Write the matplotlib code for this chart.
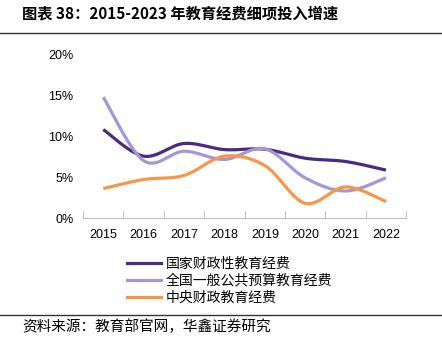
import numpy as np
import matplotlib.pyplot as plt
from matplotlib.lines import Line2D

plt.rcParams['font.family'] = ['Noto Sans CJK SC', 'DejaVu Sans']

years = ['2015', '2016', '2017', '2018', '2019', '2020', '2021', '2022']
national = [10.8, 7.55, 9.1, 8.35, 8.4, 7.3, 6.9, 5.85]
general_budget = [14.75, 7.0, 8.15, 7.15, 8.45, 4.9, 3.3, 4.9]
central = [3.6, 4.7, 5.2, 7.55, 6.4, 1.8, 3.8, 2.0]

names = ['国家财政性教育经费', '全国一般公共预算教育经费', '中央财政教育经费']
colors = ['#4b2a84', '#a596d6', '#f7964a']


def smooth(xs, ys, n=40):
    # cubic bezier through the points, tangents from neighbours (like office charts)
    p = np.column_stack([xs, ys]).astype(float)
    pad = np.vstack([p[0], p, p[-1]])
    out = []
    t = np.linspace(0, 1, n)[:, None]
    for i in range(len(p) - 1):
        p0, p3 = pad[i + 1], pad[i + 2]
        c1 = p0 + (pad[i + 2] - pad[i]) / 6
        c2 = p3 - (pad[i + 3] - pad[i + 1]) / 6
        seg = ((1 - t) ** 3) * p0 + 3 * ((1 - t) ** 2) * t * c1 + 3 * (1 - t) * t ** 2 * c2 + t ** 3 * p3
        out.append(seg if i == 0 else seg[1:])
    s = np.vstack(out)
    return s[:, 0], s[:, 1]


fig = plt.figure(figsize=(4.42, 3.45), dpi=100)
ax = fig.add_axes([0.188, 0.368, 0.731, 0.475])

x = np.arange(len(years))
for vals, c in zip([national, general_budget, central], colors):
    sx, sy = smooth(x, vals)
    ax.plot(sx, sy, color=c, lw=2.3, solid_capstyle='butt')

ax.set_xlim(-0.5, len(years) - 0.5)
ax.set_ylim(0, 20)
ax.set_yticks([0, 5, 10, 15, 20])
ax.set_yticklabels(['0%', '5%', '10%', '15%', '20%'], family='Liberation Sans', fontsize=9)
ax.set_xticks(x)
ax.set_xticklabels(years, family='Liberation Sans', fontsize=9)
ax.set_xticks(np.arange(-0.5, len(years)), minor=True)
ax.tick_params(axis='x', which='major', length=0, pad=8)
ax.tick_params(axis='x', which='minor', direction='in', length=5, color='#bfbfbf', width=0.8)
ax.tick_params(axis='y', length=0, pad=7)
for s in ['top', 'right', 'left']:
    ax.spines[s].set_visible(False)
ax.spines['bottom'].set_color('#bfbfbf')
ax.spines['bottom'].set_linewidth(0.8)

handles = [Line2D([], [], color=c, lw=2.3) for c in colors]
fig.legend(handles, names, loc='upper left', bbox_to_anchor=(0.272, 0.276),
           frameon=False, fontsize=10, handlelength=2.4, handletextpad=0.35,
           labelspacing=0.22, borderpad=0)

fig.text(0.05, 0.962, '图表 38：2015-2023 年教育经费细项投入增速', fontsize=11,
         fontweight='bold', va='center', ha='left')
fig.add_artist(Line2D([0, 1], [0.904, 0.904], color='#333333', lw=1.0))
fig.add_artist(Line2D([0, 1], [0.087, 0.087], color='#333333', lw=1.0))
fig.text(0.05, 0.052, '资料来源：教育部官网，华鑫证券研究', fontsize=10.5,
         va='center', ha='left')

fig.savefig('out.png', dpi=100)
